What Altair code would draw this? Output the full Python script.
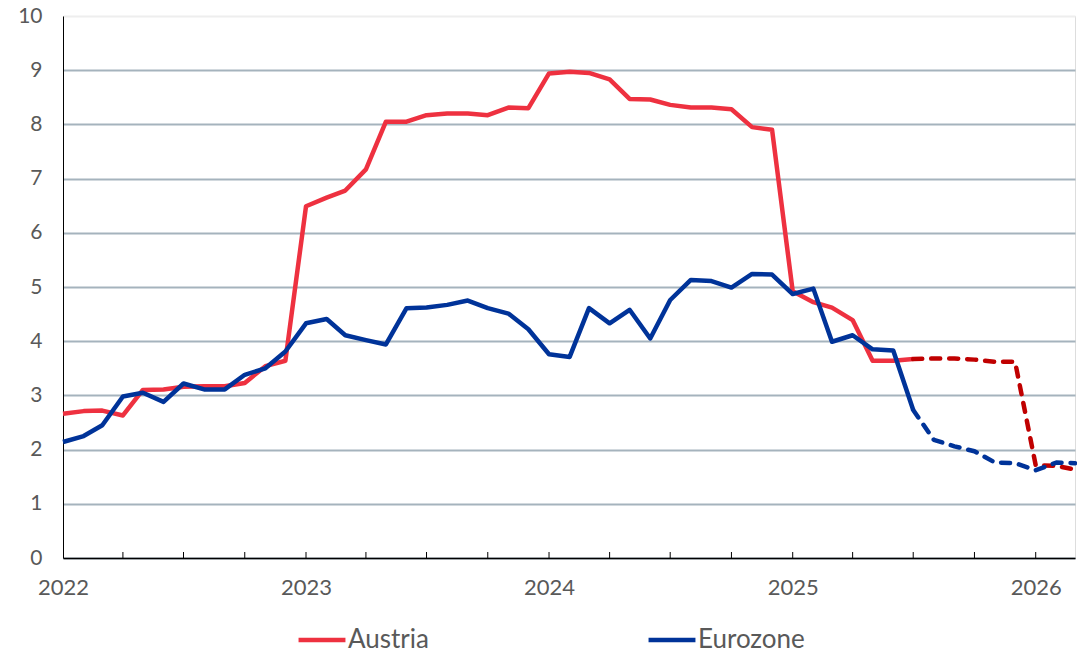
import altair as alt
import pandas as pd

# Monthly data Jan 2022 .. Mar 2026
months = pd.date_range("2022-01-01", "2026-03-01", freq="MS").strftime("%Y-%m-%d").tolist()

austria = [2.66, 2.71, 2.72, 2.63, 3.10, 3.11, 3.16, 3.17, 3.17, 3.23, 3.54, 3.64,
           6.49, 6.65, 6.78, 7.17, 8.05, 8.05, 8.17, 8.20, 8.20, 8.17, 8.31, 8.30,
           8.94, 8.97, 8.95, 8.83, 8.47, 8.46, 8.36, 8.31, 8.31, 8.28, 7.95, 7.90,
           4.92, 4.72, 4.62, 4.39, 3.64, 3.64, 3.67, 3.68, 3.68, 3.66, 3.62, 3.62,
           1.71, 1.70, 1.63]

eurozone = [2.14, 2.25, 2.45, 2.98, 3.05, 2.88, 3.22, 3.11, 3.11, 3.38, 3.50, 3.81,
            4.33, 4.41, 4.11, 4.02, 3.94, 4.61, 4.62, 4.67, 4.75, 4.61, 4.51, 4.22,
            3.76, 3.71, 4.61, 4.33, 4.58, 4.05, 4.76, 5.13, 5.11, 4.99, 5.24, 5.23,
            4.87, 4.97, 3.99, 4.11, 3.85, 3.83, 2.73, 2.18, 2.06, 1.97, 1.76, 1.75,
            1.62, 1.76, 1.75]

forecast_start = "2025-07-01"
series_names = ["Austria", "Eurozone"]
solid_colors = ["#EE3140", "#003399"]
dash_colors = ["#C00000", "#003399"]

year_ticks = ["2022-01-01", "2023-01-01", "2024-01-01", "2025-01-01", "2026-01-01"]
quarter_ticks = pd.date_range("2022-04-01", "2026-01-01", freq="QS").strftime("%Y-%m-%d").tolist()

rows = []
for name, vals in zip(series_names, [austria, eurozone]):
    for m, v in zip(months, vals):
        rows.append({"date": m, "value": v, "series": name})
df = pd.DataFrame(rows)
actual = df[df["date"] <= forecast_start]
forecast = df[df["date"] >= forecast_start].copy()
forecast["fseries"] = forecast["series"] + " forecast"

FONT = "Lato"
W, H = 1012, 542

def dt(s):
    y, m, d = map(int, s.split("-"))
    return alt.DateTime(year=y, month=m, date=d, utc=True)

xscale = alt.Scale(type="utc", domain=[dt("2022-01-01"), dt("2026-03-01")], nice=False)
yscale = alt.Scale(domain=[0, 10], nice=False)

x_enc = alt.X("date:T", scale=xscale,
              axis=alt.Axis(values=[dt(s) for s in year_ticks], format="%Y", formatType="utc",
                            title=None, grid=False, ticks=False, domain=True,
                            domainColor="#000000", domainWidth=1.5,
                            labelFont=FONT, labelFontSize=22, labelColor="#595959",
                            labelPadding=19, labelFlush=False))
y_enc = alt.Y("value:Q", scale=yscale,
              axis=alt.Axis(values=list(range(0, 11)), title=None, ticks=False,
                            domainColor="#000000", domainWidth=1,
                            grid=True,
                            gridColor={"condition": {"test": "datum.value === 10", "value": "#EEEEEE"},
                                       "value": "#A5B3BD"},
                            gridWidth=1.8,
                            labelFont=FONT, labelFontSize=21, labelColor="#595959",
                            labelPadding=21, labelFlush=False))

base_axes = alt.Chart(actual).mark_line(opacity=0).encode(x=x_enc, y=y_enc)

solid = alt.Chart(actual).mark_line(strokeWidth=4.5, strokeJoin="round").encode(
    x=alt.X("date:T", scale=xscale),
    y=alt.Y("value:Q", scale=yscale),
    color=alt.Color("series:N",
                    scale=alt.Scale(domain=series_names, range=solid_colors),
                    legend=alt.Legend(title=None, orient="none", direction="horizontal",
                                      legendX=233, legendY=598,
                                      symbolType="stroke", symbolSize=2200, symbolStrokeWidth=4.5,
                                      labelFont=FONT, labelFontSize=26, labelColor="#595959",
                                      labelOffset=0, columnPadding=210, gridAlign="each",
                                      padding=0)),
)

dashed = alt.Chart(forecast).mark_line(strokeWidth=4.5, strokeDash=[9, 9], strokeCap="round",
                                       strokeJoin="round").encode(
    x=alt.X("date:T", scale=xscale),
    y=alt.Y("value:Q", scale=yscale),
    color=alt.Color("fseries:N",
                    scale=alt.Scale(domain=[s + " forecast" for s in series_names], range=dash_colors),
                    legend=None),
)

tick_df = pd.DataFrame({"date": quarter_ticks})
ticks = alt.Chart(tick_df).mark_rule(color="#000000", strokeWidth=1).encode(
    x=alt.X("date:T", scale=xscale),
    y=alt.value(H - 6),
    y2=alt.value(H),
)

chart = alt.layer(base_axes, ticks, solid, dashed).resolve_scale(color="independent").properties(
    width=W, height=H,
    autosize=alt.AutoSizeParams(type="none"),
    padding={"left": 55, "top": 8, "right": 2, "bottom": 94},
).configure_view(stroke=None).configure(background="#FFFFFF")

chart.save("out.html", embed_options={"renderer": "svg", "actions": False})
